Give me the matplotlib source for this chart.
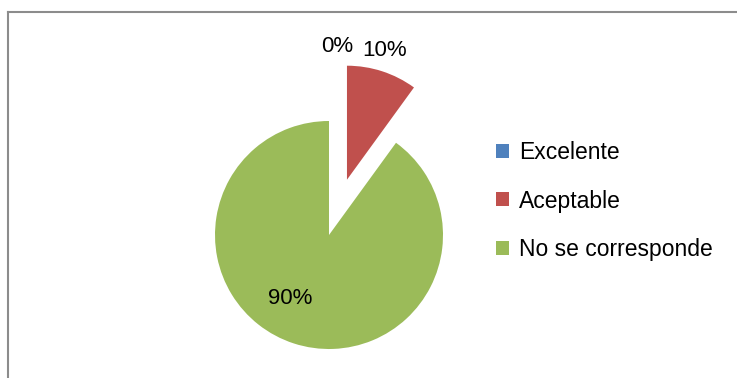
import matplotlib.pyplot as plt
from matplotlib.patches import Patch
from matplotlib.lines import Line2D

categories = ["Excelente", "Aceptable", "No se corresponde"]
values = [0, 10, 90]
pct_labels = ["0%", "10%", "90%"]
colors = ["#4F81BD", "#C0504D", "#9BBB59"]

W, H = 737, 378
fig = plt.figure(figsize=(W / 100, H / 100), dpi=100)
plt.rcParams['font.family'] = ['Liberation Sans', 'DejaVu Sans']

# axes in pixel units (y up), pie radius 114 px
R = 114
ax = fig.add_axes([0, 0, 1, 1])
wedges, _ = ax.pie(values, colors=colors, startangle=90, counterclock=False,
                   explode=[0, 0.51 * R, 0], radius=R, center=(329, H - 235),
                   wedgeprops=dict(linewidth=0))
ax.set_xlim(0, W)
ax.set_ylim(0, H)
ax.set_aspect('equal')
ax.axis('off')

# percentage labels
label_pos = [(337, 46), (385, 50), (290, 298)]
for txt, (x, y) in zip(pct_labels, label_pos):
    ax.text(x, H - y, txt, ha='center', va='center', fontsize=16, color='black')

handles = [Patch(facecolor=c, edgecolor='none') for c in colors]
fig.legend(handles, categories, loc='center left', bbox_to_anchor=(485 / W, 1 - 201 / H),
           frameon=False, fontsize=16.5, handlelength=0.55, handleheight=0.55,
           handletextpad=0.45, labelspacing=1.1, borderpad=0)

# chart area border (left and top only visible)
fig.add_artist(Line2D([8 / W, 8 / W], [0, 1 - 12 / H], transform=fig.transFigure,
                      color='#8c8c8c', linewidth=1.5))
fig.add_artist(Line2D([8 / W, 736 / W], [1 - 12 / H, 1 - 12 / H], transform=fig.transFigure,
                      color='#8c8c8c', linewidth=1.5))

fig.savefig('out.png', dpi=100)
